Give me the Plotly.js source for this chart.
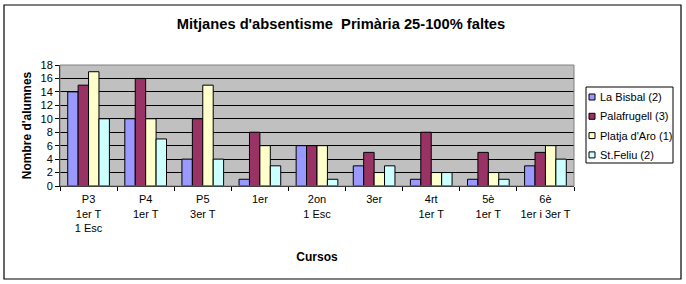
<!DOCTYPE html>
<html><head><meta charset="utf-8">
<script src="https://cdn.plot.ly/plotly-3.0.1.min.js"></script>
<style>html,body{margin:0;padding:0;background:#fff}#chart{width:686px;height:284px}</style>
</head><body><div id="chart"></div>
<script>
const categories = ["P3<br>1er T<br>1 Esc","P4<br>1er T","P5<br>3er T","1er","2on<br>1 Esc","3er","4rt<br>1er T","5è<br>1er T","6è<br>1er i 3er T"];
const seriesNames = ["La Bisbal (2)","Palafrugell (3)","Platja d'Aro (1)","St.Feliu (2)"];
const laBisbal    = [14,10,4,1,6,3,1,1,3];
const palafrugell = [15,16,10,8,6,5,8,5,5];
const platjaDAro  = [17,10,15,6,6,2,2,2,6];
const stFeliu     = [10,7,4,3,1,3,2,1,4];
const colors = ["#9999FF","#993366","#FFFFCC","#CCFFFF"];
const seriesValues = [laBisbal, palafrugell, platjaDAro, stFeliu];

const traces = seriesValues.map((v,i)=>({
  type:'bar', x:categories, y:v, name:seriesNames[i],
  marker:{color:colors[i], line:{color:'#000', width:1}}
}));

const W=686,H=284,L=60,R=112,T=65,B=98;
const pw=W-L-R, ph=H-T-B;
const px = p => (p-L)/pw, py = p => 1-(p-T)/ph;

const shapes = [
  {type:'rect', xref:'paper', yref:'paper', x0:px(4), x1:px(681), y0:py(279), y1:py(5), line:{color:'#000', width:1.2}, layer:'below'},
  {type:'rect', xref:'paper', yref:'paper', x0:0, x1:1, y0:0, y1:1, line:{color:'#808080', width:1}},
  {type:'rect', xref:'paper', yref:'paper', x0:px(586), x1:px(673), y0:py(163), y1:py(87), line:{color:'#000', width:1}, fillcolor:'#fff'}
];
const annotations = [];
seriesNames.forEach((n,i)=>{
  const cy = 97 + i*19.3;
  shapes.push({type:'rect', xref:'paper', yref:'paper', x0:px(589), x1:px(595), y0:py(cy+3), y1:py(cy-3), fillcolor:colors[i], line:{color:'#000', width:1}});
  annotations.push({xref:'paper', yref:'paper', x:px(598), y:py(cy), xanchor:'left', yanchor:'middle', text:n, showarrow:false, font:{size:11, color:'#000'}});
});

const layout = {
  width:W, height:H,
  margin:{l:L,r:R,t:T,b:B,pad:0},
  paper_bgcolor:'#fff', plot_bgcolor:'#C0C0C0',
  font:{family:'Liberation Sans, Arial, sans-serif', size:11, color:'#000'},
  barmode:'group', bargap:0.27, bargroupgap:0,
  showlegend:false,
  title:{text:"Mitjanes d'absentisme  Primària 25-100% faltes", font:{size:14.7, color:'#000', weight:'bold'}, x:px(341), xanchor:'center', xref:'paper', y:1-24/H, yanchor:'middle'},
  xaxis:{type:'category', tickson:'boundaries', ticks:'outside', ticklen:4, tickcolor:'#000', tickangle:0,
    ticklabelstandoff:3,
    showline:true, linecolor:'#000', linewidth:1, showgrid:false, automargin:false,
    tickfont:{size:11}, title:{text:'Cursos', font:{size:12, weight:'bold'}, standoff:19}},
  yaxis:{range:[0,18], dtick:2, ticks:'outside', ticklen:4, tickcolor:'#000',
    showline:true, linecolor:'#000', linewidth:1, gridcolor:'#000', gridwidth:1, zeroline:false,
    automargin:false, tickfont:{size:11}, title:{text:"Nombre d'alumnes", font:{size:12, weight:'bold'}, standoff:6}},
  shapes:shapes, annotations:annotations
};
Plotly.newPlot('chart', traces, layout, {displayModeBar:false, staticPlot:true});
</script></body></html>
